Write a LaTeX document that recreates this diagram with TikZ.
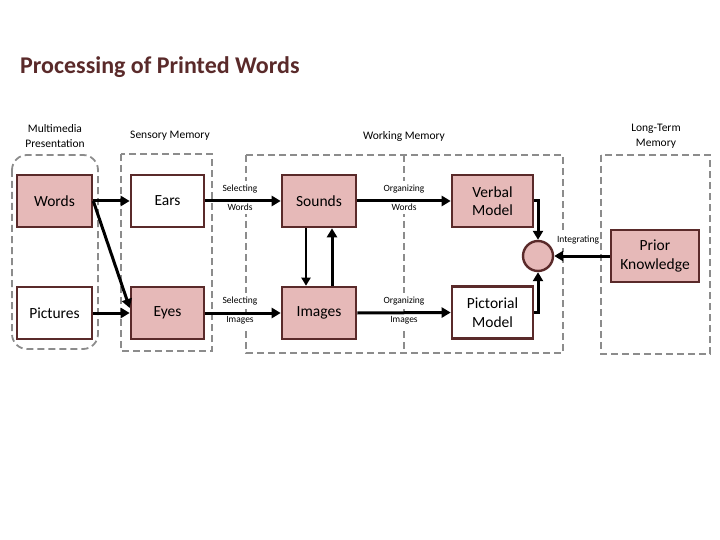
\documentclass[tikz,border=0pt]{standalone}
\usepackage{fontspec}
\setmainfont{Carlito}
\usetikzlibrary{arrows.meta}
\definecolor{pinkc}{HTML}{E6B9B8}
\definecolor{brdr}{HTML}{5A2A2A}
\definecolor{dgray}{HTML}{8C8C8C}
\tikzset{
  box/.style={draw=brdr, line width=2.6pt, minimum height=52pt, align=center, font=\fontsize{15.5}{16}\selectfont, inner sep=2pt},
  pinkbox/.style={box, fill=pinkc},
  whitebox/.style={box, fill=white},
  region/.style={draw=dgray, line width=1.8pt, dash pattern=on 7pt off 4pt},
  arr/.style={line width=3pt, -{Triangle[length=9pt,width=10pt]}},
  thinarr/.style={line width=2pt, -{Triangle[length=8pt,width=9pt]}},
  lbl/.style={fill=white, inner xsep=1pt, inner ysep=3.5pt, font=\fontsize{9.5}{10}\selectfont},
  head/.style={align=center, font=\fontsize{11.5}{15.5}\selectfont}
}
\begin{document}
\begin{tikzpicture}[x=1pt,y=-1pt]
\useasboundingbox (0,0) rectangle (720,540);
% title
\node[anchor=west, font=\fontsize{24}{26}\selectfont\bfseries, text=brdr, inner sep=0pt] (title) at (20,67) {Processing of Printed Words};
% headings
\node[head] (hmm) at (55,136) {Multimedia\\Presentation};
\node[head] (hsm) at (170,136) {Sensory Memory};
\node[head] (hwm) at (404,136) {Working Memory};
\node[head] (hltm) at (656,136) {Long-Term\\Memory};
% regions
\draw[region, rounded corners=15pt] (12,155) rectangle (98,349);
\draw[region] (121,154) rectangle (212,351);
\draw[region] (246,155) rectangle (563,353);
\draw[region] (404,155) -- (404,353);
\draw[region] (601,155) rectangle (710,354);
% labels
\node[lbl] (sw1) at (240,189) {Selecting};
\node[lbl] (sw2) at (240,207) {Words};
\node[lbl] (si1) at (240,301) {Selecting};
\node[lbl] (si2) at (240,320) {Images};
\node[lbl] (ow1) at (404,189) {Organizing};
\node[lbl] (ow2) at (404,207) {Words};
\node[lbl] (oi1) at (404,301) {Organizing};
\node[lbl] (oi2) at (404,320) {Images};
\node[lbl] (int) at (578,240) {Integrating};
% boxes
\node[pinkbox, minimum width=75pt] (words) at (54.5,201) {Words};
\node[whitebox, minimum width=75pt] (pictures) at (54.5,313) {Pictures};
\node[whitebox, minimum width=73pt] (ears) at (167.5,201) {Ears};
\node[pinkbox, minimum width=73pt] (eyes) at (167.5,313) {Eyes};
\node[pinkbox, minimum width=74pt] (sounds) at (319,201) {Sounds};
\node[pinkbox, minimum width=74pt] (images) at (319,313) {Images};
\node[pinkbox, minimum width=81pt, font=\fontsize{15.5}{18.5}\selectfont] (verbal) at (492.5,201) {Verbal\\Model};
\node[whitebox, minimum width=81pt, font=\fontsize{15.5}{18.5}\selectfont] (pictorial) at (492.5,312.5) {Pictorial\\Model};
\node[pinkbox, minimum width=88pt, font=\fontsize{15.5}{18.5}\selectfont] (prior) at (655,256) {Prior\\Knowledge};
\node[circle, draw=brdr, line width=2.4pt, fill=pinkc, minimum size=30pt, inner sep=0pt] (integ) at (538,256) {};
% arrows
\draw[arr] (words.east) -- (ears.west);
\draw[arr] (words.east) -- ([yshift=5pt]eyes.west);
\draw[arr] (pictures.east) -- (eyes.west);
\draw[arr] (ears.east) -- (sounds.west);
\draw[arr] (eyes.east) -- (images.west);
\draw[arr] (sounds.east) -- (verbal.west);
\draw[arr] (images.east) -- (pictorial.west);
\draw[thinarr] ([xshift=-13pt]sounds.south) -- ([xshift=-13pt]images.north);
\draw[arr] ([xshift=13pt]images.north) -- ([xshift=13pt]sounds.south);
\draw[arr] (verbal.east) -| (integ.north);
\draw[arr] (pictorial.east) -| (integ.south);
\draw[arr] (prior.west) -- (integ.east);
\end{tikzpicture}
\end{document}
